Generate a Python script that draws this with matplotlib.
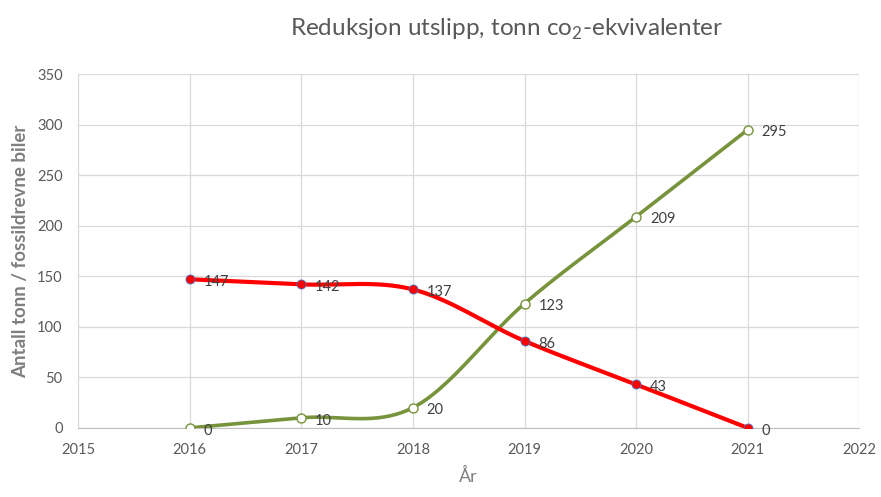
#!/usr/bin/env python3
# Reduksjon utslipp - recreated line chart with Excel-style smoothed lines

import numpy as np
import matplotlib.pyplot as plt

years = [2016, 2017, 2018, 2019, 2020, 2021]
fossil = [147, 142, 137, 86, 43, 0]
reduksjon = [0, 10, 20, 123, 209, 295]

x_ticks = [2015, 2016, 2017, 2018, 2019, 2020, 2021, 2022]
y_ticks = [0, 50, 100, 150, 200, 250, 300, 350]

plt.rcParams['font.family'] = ['Lato', 'DejaVu Sans']


def smooth(xs, ys, n=40):
    """Excel-like smoothing: cubic Bezier with Catmull-Rom control points."""
    p = np.column_stack([xs, ys]).astype(float)
    out = []
    for i in range(len(p) - 1):
        p0 = p[i - 1] if i > 0 else p[i]
        p1, p2 = p[i], p[i + 1]
        p3 = p[i + 2] if i + 2 < len(p) else p[i + 1]
        c1 = p1 + (p2 - p0) / 6
        c2 = p2 - (p3 - p1) / 6
        t = np.linspace(0, 1, n)[:, None]
        seg = ((1 - t) ** 3) * p1 + 3 * ((1 - t) ** 2) * t * c1 + 3 * (1 - t) * t ** 2 * c2 + t ** 3 * p2
        out.append(seg if i == 0 else seg[1:])
    out = np.vstack(out)
    return out[:, 0], out[:, 1]


fig = plt.figure(figsize=(8.81, 4.97), dpi=100)
ax = fig.add_axes([0.0885, 0.139, 0.887, 0.712])

green = '#77933C'
red = '#FF0000'

sx, sy = smooth(years, reduksjon)
ax.plot(sx, sy, color=green, lw=2.6, zorder=3)
ax.plot(years, reduksjon, 'o', ms=6.5, mfc='white', mec=green, mew=1.0, zorder=4)

sx, sy = smooth(years, fossil)
ax.plot(sx, sy, color=red, lw=3, zorder=3)
ax.plot(years, fossil, 'o', ms=6.5, mfc=red, mec='#4472C4', mew=0.6, zorder=4)

for xv, yv in zip(years, reduksjon):
    ax.annotate(str(yv), (xv, yv), xytext=(10, -2), textcoords='offset points',
                va='center', ha='left', fontsize=10.5, color='#404040')
for xv, yv in zip(years, fossil):
    ax.annotate(str(yv), (xv, yv), xytext=(10, -2), textcoords='offset points',
                va='center', ha='left', fontsize=10.5, color='#404040')

ax.set_xlim(2015, 2022)
ax.set_ylim(0, 350)
ax.set_xticks(x_ticks)
ax.set_yticks(y_ticks)
ax.grid(True, color='#D9D9D9', lw=0.9)
ax.set_axisbelow(True)
for s in ['top', 'right']:
    ax.spines[s].set_visible(False)
ax.spines['left'].set_color('#D9D9D9')
ax.spines['bottom'].set_color('#BFBFBF')
ax.tick_params(length=0, labelsize=10.5, labelcolor='#595959')
ax.tick_params(axis='x', pad=11)
ax.tick_params(axis='y', pad=11)

ax.set_xlabel('År', fontsize=13, color='#7F7F7F', labelpad=8)
ax.set_ylabel('Antall tonn / fossildrevne biler', fontsize=13.5, color='#7F7F7F',
              fontweight='bold', labelpad=6)
fig.text(0.575, 0.94, r'Reduksjon utslipp, tonn co$_{\mathregular{2}}$-ekvivalenter',
         ha='center', va='center', fontsize=17.5, color='#595959')

fig.savefig('out.png', dpi=100)
